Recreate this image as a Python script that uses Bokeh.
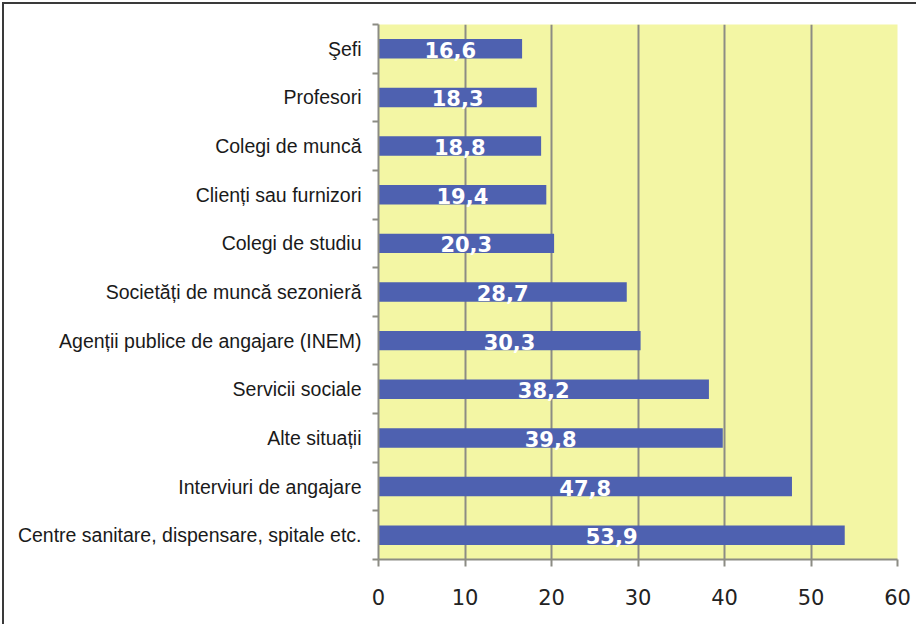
from bokeh.plotting import figure
from bokeh.models import ColumnDataSource, FixedTicker, LabelSet, Range1d
from bokeh.embed import file_html
from bokeh.resources import INLINE
from bokeh.core.properties import value

categories = ["Şefi", "Profesori", "Colegi de muncă", "Clienți sau furnizori",
              "Colegi de studiu", "Societăți de muncă sezonieră",
              "Agenții publice de angajare (INEM)", "Servicii sociale",
              "Alte situații", "Interviuri de angajare",
              "Centre sanitare, dispensare, spitale etc."]
values = [16.6, 18.3, 18.8, 19.4, 20.3, 28.7, 30.3, 38.2, 39.8, 47.8, 53.9]
x_ticks = [0, 10, 20, 30, 40, 50, 60]

n = len(categories)
ypos = [n - i - 0.5 for i in range(n)]
labels = [f"{v:.1f}".replace(".", ",") for v in values]
src = ColumnDataSource(dict(y=ypos, v=values, half=[v / 2 for v in values],
                            lab=labels))

p = figure(width=914, height=622, output_backend="svg", toolbar_location=None,
           x_range=Range1d(0, 60), y_range=Range1d(0, n),
           min_border_left=374, min_border_right=21, min_border_top=20,
           min_border_bottom=67)
p.styles = {"border-top": "2px solid #3a3a3a", "border-left": "2px solid #3a3a3a",
            "box-sizing": "border-box", "margin-left": "2px", "margin-top": "2px"}
p.background_fill_color = "#F3F6A4"
p.border_fill_color = "white"
p.outline_line_color = None

p.hbar(y="y", right="v", left=0, height=0.4, source=src,
       fill_color="#4E61B0", line_color=None)

p.add_layout(LabelSet(x="half", y="y", text="lab", source=src,
                      text_align="center", text_baseline="middle",
                      text_color="white", text_font=value("DejaVu Sans"),
                      text_font_style="bold", text_font_size="21px",
                      y_offset=-1))

# x axis
p.xaxis.ticker = FixedTicker(ticks=x_ticks)
p.xaxis.axis_line_color = "#8c8c84"
p.xaxis.axis_line_width = 2
p.xaxis.major_tick_line_color = "#8c8c84"
p.xaxis.major_tick_line_width = 2
p.xaxis.major_tick_in = 0
p.xaxis.major_tick_out = 7
p.xaxis.minor_tick_line_color = None
p.xaxis.major_label_text_font = "DejaVu Sans"
p.xaxis.major_label_text_font_size = "21px"
p.xaxis.major_label_text_color = "#222222"
p.xaxis.major_label_standoff = 22

# y axis
p.yaxis.ticker = FixedTicker(ticks=ypos, minor_ticks=list(range(n + 1)))
p.yaxis.major_label_overrides = {y: c for y, c in zip(ypos, categories)}
p.yaxis.axis_line_color = "#8c8c84"
p.yaxis.axis_line_width = 2
p.yaxis.major_tick_line_color = None
p.yaxis.minor_tick_line_color = "#8c8c84"
p.yaxis.minor_tick_line_width = 2
p.yaxis.minor_tick_in = 0
p.yaxis.minor_tick_out = 6
p.yaxis.major_label_text_font = "Liberation Sans"
p.yaxis.major_label_text_font_size = "19.5px"
p.yaxis.major_label_text_color = "#1a1a1a"
p.yaxis.major_label_standoff = 11

p.xgrid.ticker = FixedTicker(ticks=x_ticks)
p.xgrid.grid_line_color = "#8c8c84"
p.xgrid.grid_line_width = 2
p.ygrid.grid_line_color = None

open("out.html", "w").write(file_html(p, INLINE))
